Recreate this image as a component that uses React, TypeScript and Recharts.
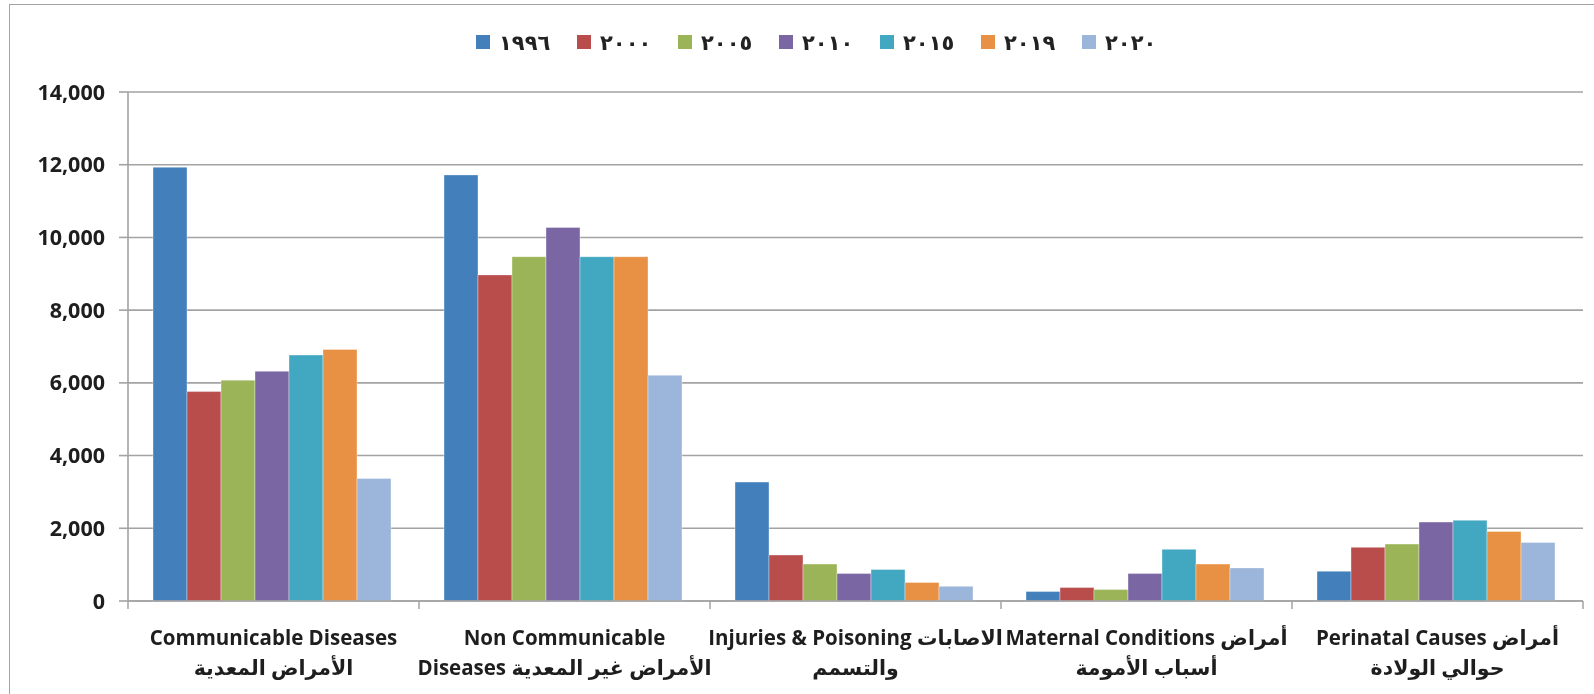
import React from 'react';
import { BarChart, Bar, XAxis, YAxis, CartesianGrid } from 'recharts';

const categories = ['Communicable', 'NonCommunicable', 'Injuries', 'Maternal', 'Perinatal'];
const labelLine1 = [
  'Communicable Diseases',
  'Non Communicable',
  'Injuries & Poisoning الاصابات',
  'Maternal Conditions أمراض',
  'Perinatal Causes أمراض',
];
const labelLine2 = [
  'الأمراض المعدية',
  'Diseases الأمراض غير المعدية',
  'والتسمم',
  'أسباب الأمومة',
  'حوالي الولادة',
];

const years = ['1996', '2000', '2005', '2010', '2015', '2019', '2020'];
const yearLabels = ['١٩٩٦', '٢٠٠٠', '٢٠٠٥', '٢٠١٠', '٢٠١٥', '٢٠١٩', '٢٠٢٠'];
const colors = ['#4380BB', '#B84D4C', '#9AB457', '#7A66A3', '#42A7C0', '#E89145', '#9CB5DB'];

const v1996 = [11930, 11720, 3270, 260, 820];
const v2000 = [5760, 8970, 1265, 370, 1475];
const v2005 = [6075, 9470, 1015, 315, 1565];
const v2010 = [6320, 10275, 755, 755, 2170];
const v2015 = [6765, 9470, 865, 1420, 2220];
const v2019 = [6920, 9470, 510, 1015, 1915];
const v2020 = [3370, 6210, 405, 910, 1610];
const yTicks = [0, 2000, 4000, 6000, 8000, 10000, 12000, 14000];

const seriesValues = [v1996, v2000, v2005, v2010, v2015, v2019, v2020];

const data = categories.map((name, i) => {
  const row: Record<string, string | number> = { name };
  years.forEach((y, s) => {
    row['y' + y] = seriesValues[s][i];
  });
  return row;
});

const W = 1594;
const H = 694;
const MARGIN = { top: 92, right: 11, bottom: 0, left: 0 };
const Y_W = 128;
const X_H = 93;
const PLOT_W = W - MARGIN.left - MARGIN.right - Y_W;
const GRAY = '#a3a3a3';
const FONT = "'Open Sans', 'DejaVu Sans', sans-serif";

const CategoryTick = (props: any) => {
  const { x, y, index } = props;
  const band = PLOT_W / categories.length;
  const last = index === categories.length - 1;
  return (
    <g>
      <line x1={x - band / 2} x2={x - band / 2} y1={y} y2={y + 8} stroke={GRAY} strokeWidth={1.5} />
      {last && (
        <line x1={x + band / 2} x2={x + band / 2} y1={y} y2={y + 8} stroke={GRAY} strokeWidth={1.5} />
      )}
      <text x={x} y={y + 44} textAnchor="middle" fontSize={20.5} fontWeight={700} fill="#1e1e1e" fontFamily={FONT}>
        {labelLine1[index]}
      </text>
      <text x={x} y={y + 74} textAnchor="middle" fontSize={20.5} fontWeight={700} fill="#1e1e1e" fontFamily={FONT}>
        {labelLine2[index]}
      </text>
    </g>
  );
};

const LegendRow = () => (
  <div style={{ position: 'absolute', left: 476, top: 28, display: 'flex', fontFamily: FONT }}>
    {years.map((y, i) => (
      <div key={y} style={{ width: 101, display: 'flex', alignItems: 'center' }}>
        <span style={{ width: 14, height: 14, background: colors[i], display: 'inline-block' }} />
        <span style={{ marginLeft: 9, fontSize: 21, fontWeight: 'bold', color: '#222', letterSpacing: 4 }}>
          {yearLabels[i]}
        </span>
      </div>
    ))}
  </div>
);

export default function App() {
  return (
    <div style={{ position: 'absolute', left: 0, top: 0, width: W, height: H, background: '#fff' }}>
      <div
        style={{
          position: 'fixed',
          left: 9,
          top: 4,
          width: 1700,
          height: 800,
          border: `1.5px solid ${GRAY}`,
          pointerEvents: 'none',
        }}
      />
      <LegendRow />
      <BarChart width={W} height={H} data={data} margin={MARGIN} barGap={0} barCategoryGap={25}>
        <CartesianGrid vertical={false} stroke={GRAY} strokeWidth={1.6} />
        <XAxis
          dataKey="name"
          height={X_H}
          interval={0}
          stroke={GRAY}
          strokeWidth={1.6}
          tickLine={false}
          tickSize={0}
          tickMargin={0}
          tick={<CategoryTick />}
        />
        <YAxis
          width={Y_W}
          domain={[0, 14000]}
          ticks={yTicks}
          interval={0}
          stroke={GRAY}
          strokeWidth={1.6}
          tickSize={9}
          tickMargin={14}
          tickFormatter={(v: number) => v.toLocaleString('en-US')}
          tick={{ fontSize: 21.5, fontWeight: 700, fill: '#1e1e1e', fontFamily: FONT }}
        />
        {years.map((y, i) => (
          <Bar
            key={y}
            dataKey={'y' + y}
            fill={colors[i]}
            stroke="#ffffff"
            strokeOpacity={0.45}
            strokeWidth={0.8}
            isAnimationActive={false}
          />
        ))}
      </BarChart>
    </div>
  );
}
